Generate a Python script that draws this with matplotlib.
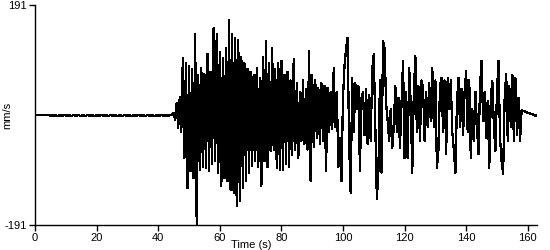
import numpy as np
import matplotlib
matplotlib.use("Agg")
import matplotlib.pyplot as plt

# Ground velocity record (mm/s), sampled every 0.5 s starting at t = 0 s
dt = 0.5

# quiet part before the arrival, 0 - 44.5 s
quiet = [0, 0, 0, 0, 0, 0, 0, 0, 0, 0,
         -1, 0, -1.5, 0, -1, -1.5, 0, -1, -1.5, 0,
         -1, -1.5, 0, -1, -1.5, 0, -1, -1.5, 0, -1,
         -1.5, 0, -1, -1.5, 0, -1, -1.5, 0, -1, -1.5,
         0, -1, -1.5, 0, -1, -1.5, 0, -1, -1.5, 0,
         -1, -1.5, 0, -1, -1.5, 0, -1, -1.5, 0, -1,
         -1.5, 0, -1, -1.5, 0, -1, -1.5, 0, -1, -1.5,
         0, -1, -1.5, 0, -1, -1.5, 0, -1, -1.5, 0,
         -1, -1.5, 0, -1, -1.5, 0, -1, -1, 0, 1]

# strong motion, 45 - 157.5 s
motion = [
    4, -8, 20, -22, 32, -30, 99, -75, 90, -127,        # 45
    85, -97, 80, -110, 141, -189, 70, -95, 82, -90,    # 50
    71, -92, 106, -97, 75, -85, 151, -80, 141, -100,   # 55
    110, -123, 99, -110, 116, -115, 165, -130, 140, -135,  # 60
    134, -158, 130, -150, 100, -127, 90, -115, 80, -100,   # 65
    75, -88, 70, -80, 82, -90, 65, -123, 100, -80,     # 70
    128, -90, 90, -62, 116, -60, 80, -92, 90, -95,     # 75
    94, -95, 70, -85, 75, -90, 60, -70, 97, -60,       # 80
    55, -75, 40, -45, 60, -50, 45, -60, 111, -115,     # 85
    70, -55, 60, -40, 47, -50, 55, -45, 50, -97,       # 90
    47, -30, 40, -25, 82, -20, 40, -90, -40, -115,     # 95
    30, 85, 116, 134, -50, -135, 64, -30, 55, 10,      # 100
    50, -97, 30, 40, -35, 45, -50, 35, -45, 80,        # 105
    106, -20, -146, -97, 60, -100, 128, 116, 20, -10,  # 110
    -45, 10, -57, -20, 50, -30, 30, -57, 20, 94,       # 115
    -75, 40, -75, 82, 20, -100, 40, 102, -30, 50,      # 120
    -45, 60, 47, -45, 40, -20, 55, -10, 82, -20,       # 125
    60, -92, -60, 50, 64, -30, 60, -67, 64, 10,        # 130
    60, -30, -60, -100, 20, 64, -20, 45, -35, 40,      # 135
    76, -30, 60, -75, 10, -45, 40, -20, -68, 50,       # 140
    94, -10, 40, -40, 25, -92, 30, 59, -20, -62,       # 145
    40, 94, -40, -80, -102, 30, 71, -45, 50, -20,      # 150
    70, -45, 64, -35, 30, -45,                         # 155
]

# slow decay at the end of the record, 158 - 163 s
coda = [8, 7, 6, 5, 4, 3, 2, 1, 0, -1, -1]

velocity = np.array(quiet + motion + coda, dtype=float)
time = np.arange(len(velocity)) * dt

fig = plt.figure(figsize=(5.5, 2.5), dpi=100)
ax = fig.add_axes([35 / 550, 25 / 250, 502 / 550, 220 / 250])

ax.plot(time, velocity, color="black", linewidth=0.9, antialiased=False)

ax.set_xlim(0, 163)
ax.set_ylim(-191, 191)
ax.set_xticks(range(0, 161, 20))
ax.set_yticks([-191, 191])
ax.set_yticklabels(["-191", "191"])

for side in ["top", "right"]:
    ax.spines[side].set_visible(False)
ax.spines["left"].set_linewidth(1)
ax.spines["bottom"].set_linewidth(1)
ax.tick_params(labelsize=8, length=4, width=1, pad=2)

ax.set_xlabel("Time (s)", fontsize=8, labelpad=0)
ax.xaxis.set_label_coords(0.43, -0.07)
ax.set_ylabel("mm/s", fontsize=8)
ax.yaxis.set_label_coords(-0.045, 0.5)

for lbl in ax.get_xticklabels() + ax.get_yticklabels():
    lbl.set_family("Liberation Sans")
ax.xaxis.label.set_family("Liberation Sans")
ax.yaxis.label.set_family("Liberation Sans")

plt.savefig("out.png", dpi=100)
